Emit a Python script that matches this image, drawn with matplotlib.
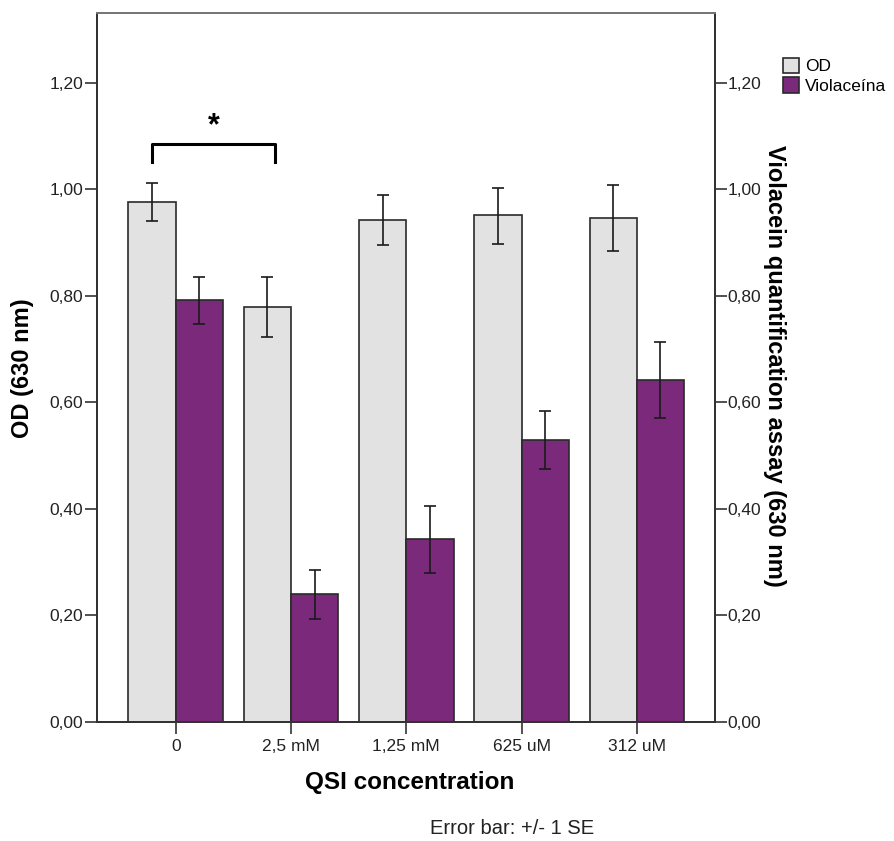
import numpy as np
import matplotlib
matplotlib.use("Agg")
import matplotlib.pyplot as plt

plt.rcParams['font.family'] = ['Liberation Sans', 'DejaVu Sans']

categories = ['0', '2,5 mM', '1,25 mM', '625 uM', '312 uM']
od_mean = [0.977, 0.779, 0.942, 0.951, 0.947]
od_lo = [0.940, 0.722, 0.896, 0.897, 0.885]
od_hi = [1.011, 0.836, 0.989, 1.003, 1.008]
vio_mean = [0.792, 0.240, 0.343, 0.530, 0.642]
vio_lo = [0.747, 0.193, 0.279, 0.475, 0.570]
vio_hi = [0.836, 0.285, 0.406, 0.584, 0.714]
yticks = [0.0, 0.2, 0.4, 0.6, 0.8, 1.0, 1.2]

od_color = '#e2e2e2'
vio_color = '#7b2a7b'
edge = '#2a2a2a'

fig = plt.figure(figsize=(8.95, 8.41), dpi=100)
ax = fig.add_axes([0.1084, 0.1415, 0.6905, 0.843])

x = np.arange(len(categories))
w = 0.41

od_mean = np.array(od_mean)
vio_mean = np.array(vio_mean)
od_err = [od_mean - np.array(od_lo), np.array(od_hi) - od_mean]
vio_err = [vio_mean - np.array(vio_lo), np.array(vio_hi) - vio_mean]

ax.bar(x - w / 2, od_mean, w, color=od_color, edgecolor=edge, linewidth=1.2, label='OD', zorder=2)
ax.bar(x + w / 2, vio_mean, w, color=vio_color, edgecolor=edge, linewidth=1.2, label='Violaceína', zorder=2)
ax.errorbar(x - w / 2, od_mean, yerr=od_err, fmt='none', ecolor='#1a1a1a', elinewidth=1.2, capsize=4, capthick=1.2, zorder=3)
ax.errorbar(x + w / 2, vio_mean, yerr=vio_err, fmt='none', ecolor='#1a1a1a', elinewidth=1.2, capsize=4, capthick=1.2, zorder=3)

tick_labels = ['{:.2f}'.format(v).replace('.', ',') for v in yticks]

ax.set_xlim(-0.683, 4.679)
ax.set_ylim(0, 1.331)
ax.set_xticks(x)
ax.set_xticklabels(categories, fontsize=12.5, color='#222222')
ax.set_yticks(yticks)
ax.set_yticklabels(tick_labels, fontsize=12.5, color='#222222')
ax.tick_params(axis='both', direction='out', length=8.5, width=1.2, color='#333333', pad=1.5)
ax.tick_params(axis='x', pad=4)

ax2 = ax.twinx()
ax2.set_ylim(ax.get_ylim())
ax2.set_yticks(yticks)
ax2.set_yticklabels(tick_labels, fontsize=12.5, color='#222222')
ax2.tick_params(axis='y', direction='out', length=8.5, width=1.2, color='#333333', pad=0.5)

for a in (ax, ax2):
    for side in ('left', 'right', 'bottom'):
        a.spines[side].set_color('#333333')
        a.spines[side].set_linewidth(1.4)
    a.spines['top'].set_color('#777777')
    a.spines['top'].set_linewidth(1.4)

# significance bracket
bx0, bx1, by, bleg = -0.21, 0.865, 1.085, 1.052
ax.plot([bx0, bx0, bx1, bx1], [bleg, by, by, bleg], color='black', linewidth=2.2,
        solid_joinstyle='round', zorder=4)
ax.text((bx0 + bx1) / 2, 1.118, '*', ha='center', va='center', fontsize=22, fontweight='bold')

fig.text(0.025, 0.562, 'OD (630 nm)', rotation=90, ha='center', va='center',
         fontsize=17, fontweight='bold')
fig.text(0.865, 0.565, 'Violacein quantification assay (630 nm)', rotation=270,
         ha='center', va='center', fontsize=17, fontweight='bold')
fig.text(0.458, 0.069, 'QSI concentration', ha='center', va='center',
         fontsize=17.5, fontweight='bold')
fig.text(0.572, 0.0143, 'Error bar: +/- 1 SE', ha='center', va='center',
         fontsize=14.5, color='#222222')

leg = ax.legend(loc='upper left', bbox_to_anchor=(1.11, 0.937), frameon=False,
                fontsize=12.5, handlelength=0.95, handleheight=1.0, handletextpad=0.3,
                borderpad=0, labelspacing=0.15, borderaxespad=0)

fig.savefig('out.png', dpi=100)
